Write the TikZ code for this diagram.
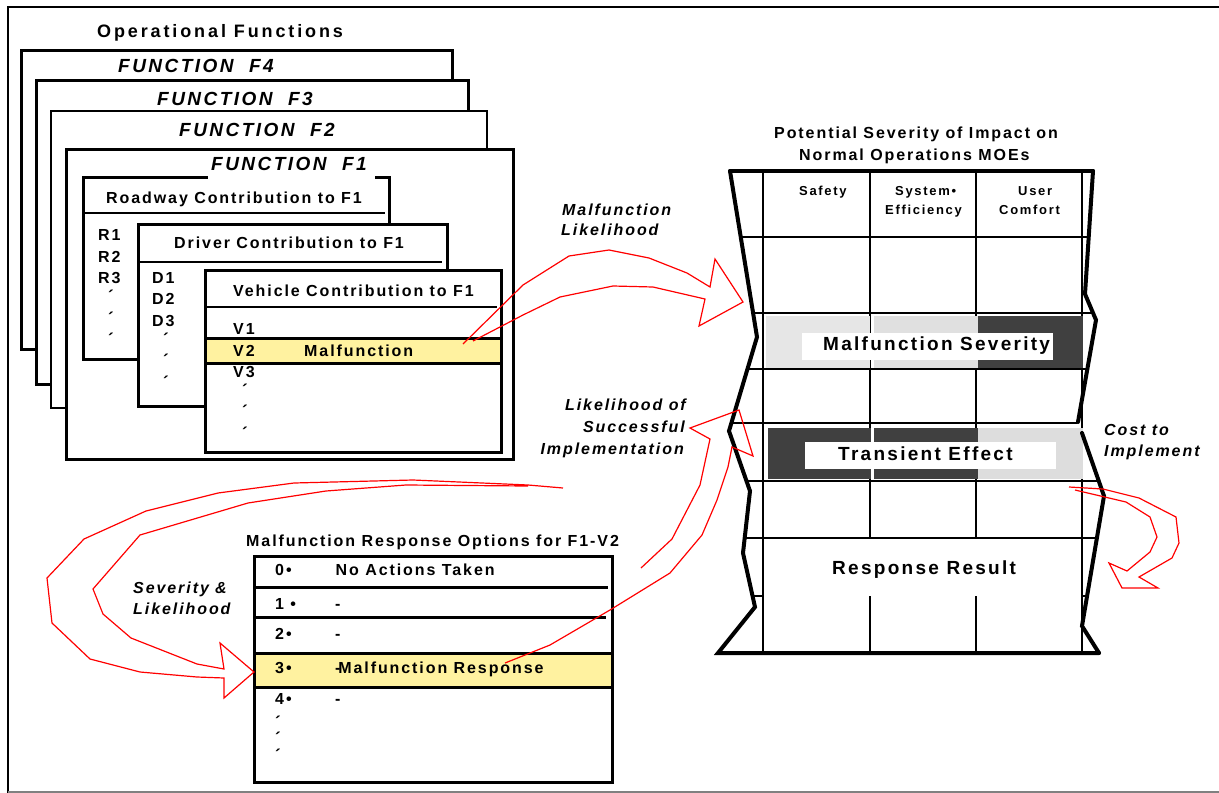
\documentclass[tikz,border=0pt]{standalone}
\usepackage{fontspec}
\newfontfamily\af[LetterSpace=12]{Liberation Sans}
\definecolor{hiyel}{RGB}{255,242,160}
\definecolor{dk}{RGB}{64,64,64}
\definecolor{lga}{RGB}{230,230,230}
\definecolor{lgb}{RGB}{224,224,224}
\definecolor{lgc}{RGB}{221,221,221}
\tikzset{
  box/.style={draw, line width=3, fill=white},
  thinbox/.style={draw, line width=1.5, fill=white},
  sepline/.style={line width=2.5},
  grid/.style={line width=1.4},
  border/.style={line width=4, line join=miter, line cap=round},
  t/.style={inner sep=0pt, font=\af\bfseries\fontsize{16}{16}\selectfont},
  tsmall/.style={inner sep=0pt, font=\af\bfseries\fontsize{13}{13}\selectfont\addfontfeature{LetterSpace=13}},
  tbig/.style={inner sep=0pt, font=\af\bfseries\fontsize{19}{19}\selectfont},
  tfun/.style={inner sep=0pt, font=\af\bfseries\itshape\fontsize{19}{19}\selectfont\addfontfeature{LetterSpace=13}},
  tit/.style={inner sep=0pt, font=\af\bfseries\itshape\fontsize{16}{16}\selectfont},
  tick/.style={inner sep=0pt, font=\af\bfseries\fontsize{17}{17}\selectfont},
  rarr/.style={draw=red, line width=1.2, line join=miter},
}
\begin{document}
\begin{tikzpicture}[x=1pt,y=-1pt]
\useasboundingbox (0,0) rectangle (1219,793);
% outer frame
\draw[line width=2.5] (8,793) -- (8,7) -- (1219,7);
\draw[gray, line width=1.5] (8,792) -- (1219,792);

\node[inner sep=0pt, anchor=base west, font=\af\bfseries\fontsize{18}{18}\selectfont\addfontfeature{LetterSpace=16}] (opf) at (97,37) {Operational Functions};

% function stack
\draw[box] (21,50) rectangle (452,349);
\node[tfun, anchor=base west] (f4) at (118,72) {FUNCTION~~F4};
\draw[box] (36,80) rectangle (468,384);
\node[tfun, anchor=base west] (f3) at (157,105.5) {FUNCTION~~F3};
\draw[thinbox] (51,111) rectangle (487,408);
\node[tfun, anchor=base west] (f2) at (179,136.5) {FUNCTION~~F2};
\draw[box] (66,149) rectangle (513,459);

% roadway
\draw[box] (83,177) rectangle (389,359);
\fill[white] (208,152) rectangle (375,181);
\node[tfun, anchor=base west] (f1) at (211,170) {FUNCTION~~F1};
\node[t, anchor=base west] (road) at (106,203) {Roadway Contribution to F1};
\draw[sepline] (85,213) -- (385,213);
\node[t, anchor=base west] (r1) at (98,240) {R1};
\node[t, anchor=base west] (r2) at (98,262) {R2};
\node[t, anchor=base west] (r3) at (98,283) {R3};
\node[tick] (rt1) at (111,296) {´};
\node[tick] (rt2) at (111,318) {´};
\node[tick] (rt3) at (111,339) {´};

% driver
\draw[box] (138,224) rectangle (447,406);
\node[t, anchor=base west] (drv) at (174,248) {Driver Contribution to F1};
\draw[sepline] (140,262) -- (442,262);
\node[t, anchor=base west] (d1) at (152,283) {D1};
\node[t, anchor=base west] (d2) at (152,304) {D2};
\node[t, anchor=base west] (d3) at (152,326) {D3};
\node[tick] (dt1) at (166,339) {´};
\node[tick] (dt2) at (166,360) {´};
\node[tick] (dt3) at (166,382) {´};

% vehicle
\draw[box] (205,270) rectangle (501,452);
\node[t, anchor=base west] (veh) at (233,296) {Vehicle Contribution to F1};
\draw[sepline] (207,307) -- (497,307);
\fill[hiyel] (205,338) rectangle (500,363);
\draw[line width=3] (205,338) -- (500,338) (205,363) -- (500,363);
\draw[line width=3] (205,270) -- (205,452) (501,270) -- (501,452);
\node[t, anchor=base west] (v1) at (233,334) {V1};
\node[t, anchor=base west] (v2) at (233,356) {V2};
\node[t, anchor=base west] (vm) at (304,356) {Malfunction};
\node[t, anchor=base west] (v3) at (233,377) {V3};
\node[tick] (vt1) at (245,390) {´};
\node[tick] (vt2) at (245,411) {´};
\node[tick] (vt3) at (245,433) {´};

% ---------- right table ----------
\node[t, anchor=base west] (pt1) at (774,138) {Potential Severity of Impact on};
\node[t, anchor=base west] (pt2) at (799,160) {Normal Operations MOEs};
\begin{scope}
\clip (730,171) -- (757,337) -- (729,431) -- (750,491) -- (743,553) -- (755,607) -- (718,653) -- (1099,653) -- (1082,626) -- (1104,496) -- (1082,435) -- (1077,423) -- (1096,320) -- (1085,294) -- (1093,171) -- cycle;
\foreach \yy in {237,313,369,423,481,538} \draw[grid] (700,\yy) -- (1120,\yy);
\draw[grid] (700,596) -- (763,596) (1082,596) -- (1120,596);
\end{scope}
\draw[grid] (763,171) -- (763,653) (1082,171) -- (1082,653);
\draw[grid] (870,171) -- (870,538) (870,596) -- (870,653);
\draw[grid] (976,171) -- (976,538) (976,596) -- (976,653);
% shaded rows
\fill[lga] (766,316) rectangle (870,368);
\fill[lgb] (874,316) rectangle (978,368);
\fill[dk] (978,316) rectangle (1083,368);
\fill[white] (802,333) rectangle (1053,360);
\fill[dk] (768,428) rectangle (871,479);
\fill[dk] (874,428) rectangle (978,479);
\fill[lgc] (978,428) rectangle (1083,479);
\fill[white] (805,442) rectangle (1056,469);
\node[tsmall, anchor=base west] (hs) at (799,195) {Safety};
\node[tsmall, anchor=base west] (hse1) at (895,195) {System•};
\node[tsmall, anchor=base west] (hse2) at (885,214.5) {Efficiency};
\node[tsmall, anchor=base west] (huc1) at (1018,195) {User};
\node[tsmall, anchor=base west] (huc2) at (999,214.5) {Comfort};
\node[tbig, anchor=base west] (ms) at (823,350.5) {Malfunction Severity};
\node[tbig, anchor=base west] (te) at (838,460) {Transient Effect};
\node[tbig, anchor=base west] (rr) at (832,574) {Response Result};
% jagged borders
\draw[border] (730,171) -- (1093,171);
\draw[border] (730,171) -- (757,337) -- (729,431) -- (750,491) -- (743,553) -- (755,607) -- (718,653) -- (1099,653);
\draw[border] (1093,171) -- (1085,294) -- (1096,320) -- (1078,422);
\draw[border] (1082,433) -- (1104,496) -- (1082,626) -- (1099,653);

% ---------- response options ----------
\node[t, anchor=base west] (rot) at (246,546.5) {Malfunction Response Options for F1-V2};
\draw[box] (254,556) rectangle (612,782);
\draw[line width=3] (254,587) -- (608,587) (254,617) -- (606,617);
\fill[hiyel] (254,653) rectangle (612,687);
\draw[line width=3] (254,653) -- (612,653) (254,687) -- (612,687);
\draw[line width=3] (254,556) rectangle (612,782);
\node[t, anchor=base west] (o0) at (275,575) {0•};
\node[t, anchor=base west] (o0t) at (335.5,575) {No Actions Taken};
\node[t, anchor=base west] (o1) at (275,609) {1 •};
\node[t, anchor=base west] (o1t) at (335,609) {-};
\node[t, anchor=base west] (o2) at (275,639) {2•};
\node[t, anchor=base west] (o2t) at (335,639) {-};
\node[t, anchor=base west] (o3) at (275,673) {3•};
\node[t, anchor=base west] (o3t) at (335,673) {-\kern-2.2pt Malfunction Response};
\node[t, anchor=base west] (o4) at (275,704) {4•};
\node[t, anchor=base west] (o4t) at (335,704) {-};
\node[tick] (ot1) at (278,722) {´};
\node[tick] (ot2) at (278,738) {´};
\node[tick] (ot3) at (278,755) {´};

% ---------- labels ----------
\node[tit, anchor=base west] (ml1) at (562,215) {Malfunction};
\node[tit, anchor=base west] (ml2) at (561,235.5) {Likelihood};
\node[tit, anchor=base east] (ls1) at (686,410.5) {Likelihood of};
\node[tit, anchor=base east] (ls2) at (685,432) {Successful};
\node[tit, anchor=base east] (ls3) at (684,454) {Implementation};
\node[tit, anchor=base west] (sl1) at (133,593) {Severity \&};
\node[tit, anchor=base west] (sl2) at (133,614) {Likelihood};
\node[tit, anchor=base west] (ct1) at (1104,435.5) {Cost to};
\node[tit, anchor=base west] (ct2) at (1104,456.5) {Implement};

% ---------- red arrows ----------
\coordinate (a1s) at (463,344);
\coordinate (a2s) at (505,663);
\draw[rarr] (a1s) -- (523,285) -- (569,256) -- (609,250) -- (649,258) -- (687,273) -- (710,287) -- (715,259) -- (743,302) -- (699,326) -- (705,299) -- (653,287) -- (613,286) -- (560,297) -- (523,315) -- (473,341);
\draw[rarr] (a2s) -- (550,645) -- (610,610) -- (670,573) -- (702,535) -- (717,500) -- (728,467) -- (732,447) -- (753,456) -- (739,410) -- (690,428) -- (710,439) -- (700,485) -- (672,539) -- (641,568);
\draw[rarr] (563,488) -- (528,485) -- (413,480) -- (294,483) -- (218,493) -- (146,511) -- (84,539) -- (47,578) -- (52,623) -- (90,659) -- (140,672) -- (197,677) -- (224,678) -- (224,698) -- (254,672) -- (220,643) -- (224,669) -- (197,664) -- (131,638) -- (103,614) -- (93,589) -- (140,535) -- (248,503) -- (326,491) -- (406,485) -- (528,486);
\draw[rarr] (1069,487) -- (1103,489) -- (1139,498) -- (1176,517) -- (1179,543) -- (1172,558) -- (1139,577) -- (1158,588) -- (1122,588) -- (1109,563) -- (1127,571) -- (1150,552) -- (1157,537) -- (1150,517) -- (1126,502) -- (1075,490);
\end{tikzpicture}
\end{document}
